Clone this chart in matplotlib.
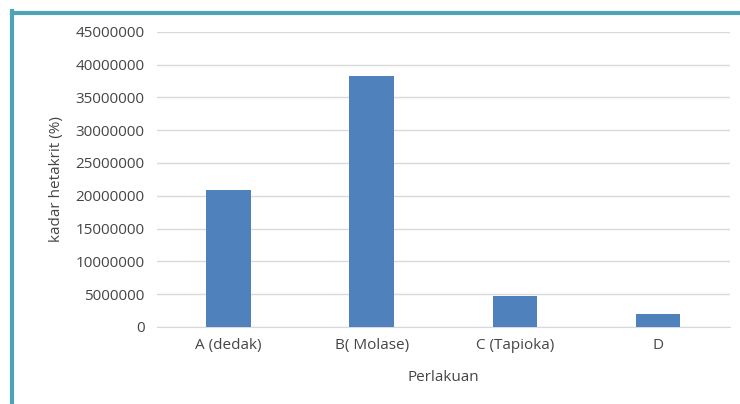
import matplotlib
matplotlib.use("Agg")
import matplotlib.pyplot as plt
from matplotlib.lines import Line2D

# data
categories = ["A (dedak)", "B( Molase)", "C (Tapioka)", "D"]
values = [20900000, 38300000, 4750000, 1980000]
yticks = [0, 5000000, 10000000, 15000000, 20000000, 25000000,
          30000000, 35000000, 40000000, 45000000]

plt.rcParams['font.family'] = ['Open Sans', 'DejaVu Sans']
text_col = "#454545"

fig = plt.figure(figsize=(7.4, 4.04), dpi=100)
ax = fig.add_axes([0.212, 0.191, 0.774, 0.730])

ax.bar(range(len(categories)), values, width=0.31, color="#4f81bd", zorder=3)
ax.set_xlim(-0.5, len(categories) - 0.5)
ax.set_ylim(0, 45000000)
ax.set_yticks(yticks)
ax.set_yticklabels([str(v) for v in yticks])
ax.set_xticks(range(len(categories)))
ax.set_xticklabels(categories)

ax.grid(axis="y", color="#d9d9d9", linewidth=1, zorder=0)
for s in ["top", "right", "left"]:
    ax.spines[s].set_visible(False)
ax.spines["bottom"].set_color("#d9d9d9")
ax.tick_params(axis="both", length=0, labelsize=11, colors=text_col)
ax.tick_params(axis="y", pad=9)
ax.tick_params(axis="x", pad=8)

ax.set_ylabel("kadar hetakrit (%)", fontsize=11, color=text_col, labelpad=8)
ax.set_xlabel("Perlakuan", fontsize=11, color=text_col, labelpad=12)

# teal frame on top and left edges
fig.add_artist(Line2D([12 / 740, 1], [1 - 12.5 / 404, 1 - 12.5 / 404],
                      transform=fig.transFigure, color="#4fa3b5", linewidth=3))
fig.add_artist(Line2D([12 / 740, 12 / 740], [0, 1 - 11 / 404],
                      transform=fig.transFigure, color="#4fa3b5", linewidth=3))

fig.savefig("out.png", dpi=100)
